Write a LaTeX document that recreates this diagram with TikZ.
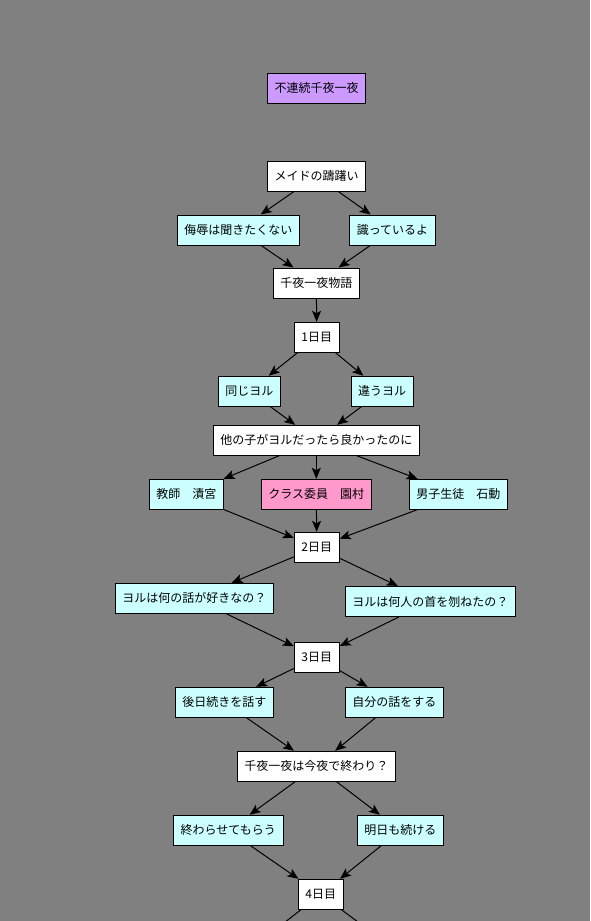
\documentclass[tikz,border=0pt]{standalone}
\usepackage{fontspec}
\newfontfamily\jpfont{Noto Sans CJK JP}
\usetikzlibrary{arrows.meta}
\definecolor{bggray}{RGB}{128,128,128}
\definecolor{boxpurple}{RGB}{204,153,255}
\definecolor{boxcyan}{RGB}{204,255,255}
\definecolor{boxpink}{RGB}{255,153,204}
\tikzset{
  box/.style={draw=black, line width=1pt, fill=white, minimum height=30pt, inner sep=0pt,
    font=\jpfont\fontsize{12}{14}\selectfont, text=black},
  titlebox/.style={box, fill=boxpurple},
  choice/.style={box, fill=boxcyan},
  pinkbox/.style={box, fill=boxpink},
  edge/.style={draw=black, line width=1pt, -{Stealth[length=11pt,width=9pt,inset=2.5pt]}},
}
\begin{document}
\begin{tikzpicture}[x=1pt,y=-1pt]
\useasboundingbox (0,0) rectangle (590,921);
\clip (0,0) rectangle (590,921);
\fill[bggray] (0,0) rectangle (590,921);

\node[titlebox, minimum width=98] (title) at (316.5,88) {不連続千夜一夜};

\node[box, minimum width=98] (maid) at (316.5,176) {メイドの躊躇い};
\node[choice, minimum width=122] (bujoku) at (238.3,230) {侮辱は聞きたくない};
\node[choice, minimum width=86] (shitte) at (392.5,230) {識っているよ};
\node[box, minimum width=86] (monogatari) at (316.3,283) {千夜一夜物語};

\node[box, minimum width=45] (d1) at (316.8,337.3) {1日目};
\node[choice, minimum width=62] (onaji) at (249.3,391.2) {同じヨル};
\node[choice, minimum width=62] (chigau) at (382.2,391.2) {違うヨル};
\node[box, minimum width=206] (hoka) at (316.3,440.3) {他の子がヨルだったら良かったのに};
\node[choice, minimum width=74] (kyoshi) at (186.3,494.3) {教師　漬宮};
\node[pinkbox, minimum width=110] (iin) at (316.3,494.3) {クラス委員　園村};
\node[choice, minimum width=98] (danshi) at (458.3,494.3) {男子生徒　石動};

\node[box, minimum width=45] (d2) at (316.8,547.3) {2日目};
\node[choice, minimum width=158] (nanino) at (194.3,598.3) {ヨルは何の話が好きなの？};
\node[choice, minimum width=170] (nannin) at (430.3,601.5) {ヨルは何人の首を刎ねたの？};

\node[box, minimum width=45] (d3) at (316.8,657.3) {3日目};
\node[choice, minimum width=98] (gojitsu) at (224.3,702.3) {後日続きを話す};
\node[choice, minimum width=98] (jibun) at (394.3,702.3) {自分の話をする};
\node[box, minimum width=158] (owari) at (316.3,766.3) {千夜一夜は今夜で終わり？};
\node[choice, minimum width=110] (owarase) at (228.3,830.3) {終わらせてもらう};
\node[choice, minimum width=86] (ashita) at (400.3,830.3) {明日も続ける};

\node[box, minimum width=45] (d4) at (320.8,894.3) {4日目};
\coordinate (nextL) at (244,954);
\coordinate (nextR) at (401,954);

\draw[edge] (maid) -- (bujoku);
\draw[edge] (maid) -- (shitte);
\draw[edge] (bujoku) -- (monogatari);
\draw[edge] (shitte) -- (monogatari);
\draw[edge] (monogatari) -- (d1);
\draw[edge] (d1) -- (onaji);
\draw[edge] (d1) -- (chigau);
\draw[edge] (onaji) -- (hoka);
\draw[edge] (chigau) -- (hoka);
\draw[edge] (hoka) -- (kyoshi);
\draw[edge] (hoka) -- (iin);
\draw[edge] (hoka) -- (danshi);
\draw[edge] (kyoshi) -- (d2);
\draw[edge] (iin) -- (d2);
\draw[edge] (danshi) -- (d2);
\draw[edge] (d2) -- (nanino);
\draw[edge] (d2) -- (nannin);
\draw[edge] (nanino) -- (d3);
\draw[edge] (nannin) -- (d3);
\draw[edge] (d3) -- (gojitsu);
\draw[edge] (d3) -- (jibun);
\draw[edge] (gojitsu) -- (owari);
\draw[edge] (jibun) -- (owari);
\draw[edge] (owari) -- (owarase);
\draw[edge] (owari) -- (ashita);
\draw[edge] (owarase) -- (d4);
\draw[edge] (ashita) -- (d4);
\draw[edge] (d4) -- (nextL);
\draw[edge] (d4) -- (nextR);
\end{tikzpicture}
\end{document}
